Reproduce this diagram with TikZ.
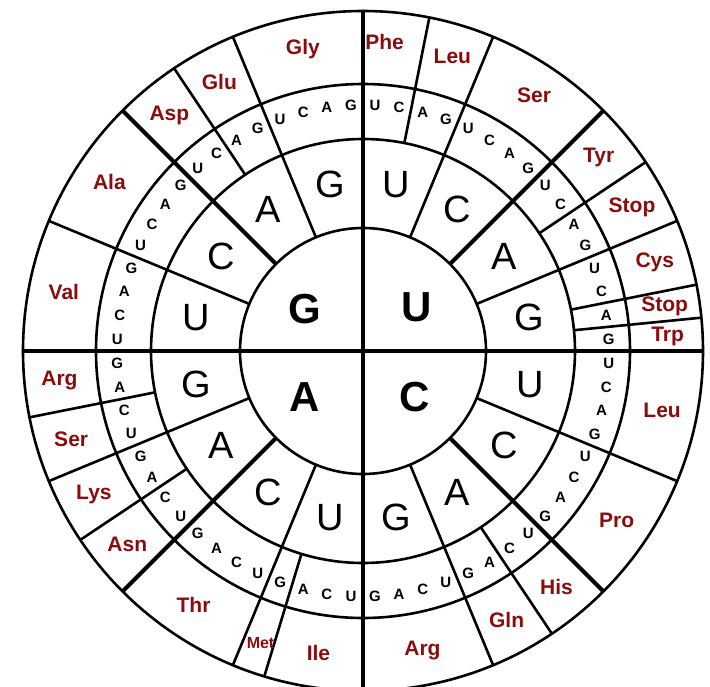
\documentclass[tikz,border=0pt]{standalone}
\usepackage{fontspec}
\setmainfont{Liberation Sans}
\usepackage{xcolor}
\usetikzlibrary{positioning}
\definecolor{aminored}{RGB}{139,12,12}

\begin{document}
\begin{tikzpicture}[x=1pt,y=1pt,line width=2.6pt,
    heavy/.style={line width=4pt},
    firstbase/.style={font=\fontsize{42}{42}\selectfont\bfseries},
    secondbase/.style={font=\fontsize{38}{38}\selectfont},
    thirdbase/.style={font=\fontsize{15}{15}\selectfont\bfseries,inner sep=0pt},
    amino/.style={text=aminored,font=\fontsize{21}{21}\selectfont\bfseries,inner sep=0pt}]
    \useasboundingbox (-363,-335) rectangle (347,351);
    \clip (-363,-335) rectangle (347,351);
    \coordinate (O) at (0,0);

    % rings
    \foreach \r in {123,212,267,340}
        \draw (O) circle (\r);

    % first base quadrants
    \draw[heavy] (0,340) -- (0,-340);
    \draw[heavy] (-340,0) -- (340,0);

    % second base borders
    \foreach \b in {22.5,67.5,...,337.5}
        \draw ({90-\b}:123) -- ({90-\b}:340);
    \foreach \b in {45,135,225,315}
        \draw[heavy] ({90-\b}:123) -- ({90-\b}:340);

    % amino acid changes inside one box
    \foreach \b in {11.25,56.25,78.75,84.375,146.25,196.875,236.25,258.75,326.25}
        \draw ({90-\b}:212) -- ({90-\b}:340);

    % centre
    \node[firstbase] (fU) at (54,44) {U};
    \node[firstbase] (fC) at (52,-46) {C};
    \node[firstbase] (fA) at (-58,-46) {A};
    \node[firstbase] (fG) at (-58,42) {G};

    % second and third base
    \foreach \n/\i in {U/0,C/1,A/2,G/3} {
        \foreach \m/\j in {U/0,C/1,A/2,G/3} {
            \node[secondbase] (s\n\m) at ({90-90*\i-22.5*\j-11.25}:170) {\m};
            \foreach \t/\p in {U/0,C/1,A/2,G/3}
                \node[thirdbase] (t\n\m\t) at ({90-90*\i-22.5*\j-5.625*\p-2.8125}:246) {\t};
        }
    }

    % amino acids
    \foreach \b/\r/\aa [count=\q] in {4/310/Phe,16.875/308/Leu,33.75/308/Ser,
        50.6/305/Tyr,61.9/305/Stop,73.1/305/Cys,81.6/305/Stop,87.2/305/Trp,
        101.25/305/Leu,123.75/305/Pro,140.6/305/His,151.9/305/Gln,168.75/305/Arg,
        188.4/305/Ile,213.75/305/Thr,230.6/305/Asn,241.9/305/Lys,253.1/305/Ser,
        264.4/305/Arg,281.25/305/Val,303.75/305/Ala,320.6/305/Asp,331.9/305/Glu,
        348.75/308/Gly}
        \node[amino] (aa\q) at ({90-\b}:\r) {\aa};
    \node[amino,font=\fontsize{16}{16}\selectfont\bfseries] (met) at ({90-199.3}:310) {Met};
\end{tikzpicture}
\end{document}
